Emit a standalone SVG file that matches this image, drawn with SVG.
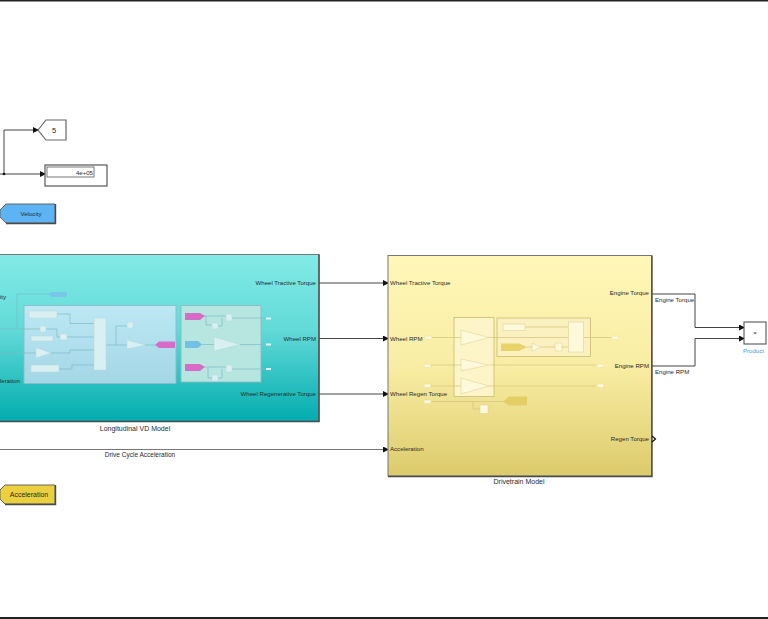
<svg xmlns="http://www.w3.org/2000/svg" width="768" height="619" viewBox="0 0 768 619">
<defs>
<linearGradient id="cy" x1="0" y1="0" x2="0" y2="1"><stop offset="0" stop-color="#82ebe6"/><stop offset="0.45" stop-color="#62dad8"/><stop offset="1" stop-color="#02acae"/></linearGradient>
<linearGradient id="ye" x1="0" y1="0" x2="0" y2="1"><stop offset="0" stop-color="#fff7b8"/><stop offset="0.5" stop-color="#f9eda4"/><stop offset="1" stop-color="#dccb6c"/></linearGradient>
<linearGradient id="bl" x1="0" y1="0" x2="0" y2="1"><stop offset="0" stop-color="#bde8f4"/><stop offset="1" stop-color="#a3d6e6"/></linearGradient>
<marker id="a" markerWidth="6" markerHeight="6" refX="5" refY="3" orient="auto" markerUnits="userSpaceOnUse"><path d="M0 0L6 3L0 6z" fill="#111"/></marker>
</defs>
<style>
text{font-family:"Liberation Sans",Arial,sans-serif;font-size:6.1px;fill:#2a2a2a}
.c{fill:none;stroke:#444;stroke-width:1}
.ca{fill:none;stroke:#444;stroke-width:1;marker-end:url(#a)}
.ic{fill:none;stroke:#7dbcc4;stroke-width:0.7}
.iy{fill:none;stroke:#d2c47c;stroke-width:0.7}
.lb{fill:#d9eff1;stroke:#b4d8dc;stroke-width:0.5}
.ly{fill:#fff9dc;stroke:#d9cc8a;stroke-width:0.5}
.m{text-anchor:middle}
.e{text-anchor:end}
.big{font-size:7px}
.sh{fill:none;stroke:#4a4a4a;stroke-width:1.4}
</style>
<rect width="768" height="619" fill="#fff"/>
<rect x="0" y="0" width="768" height="1.5" fill="#222"/>
<rect x="0" y="617" width="768" height="2" fill="#222"/>

<g id="connectors">
<path class="ca" d="M4 173V130H38"/>
<path class="ca" d="M0 174H45"/>
<circle cx="4" cy="174" r="1.3" fill="#111"/>
<path class="ca" d="M319 283H388"/>
<path class="ca" d="M319 338.500H388"/>
<path class="ca" d="M319 394H388"/>
<path d="M0 449.500H388" fill="none" stroke="#777" stroke-width="1" marker-end="url(#a)"/>
<path class="ca" d="M652 294H695V327.500H744"/>
<path class="ca" d="M652 366H695V338.500H744"/>
<text class="m big" x="140" y="457" style="font-size:6.500px">Drive Cycle Acceleration</text>
<text x="655" y="302">Engine Torque</text>
<text x="655" y="374">Engine RPM</text>
</g>

<g id="goto-5">
<path d="M38 130L46 120H66V140H46z" fill="#fff" stroke="#666" stroke-width="1.2"/>
<text class="m" x="54" y="133" style="font-size:7.500px">5</text>
</g>

<g id="display">
<rect x="45" y="165" width="62" height="21" fill="#fff" stroke="#555" stroke-width="1.2"/>
<rect x="47" y="167" width="47" height="10" fill="#fff" stroke="#555" stroke-width="0.8"/>
<text class="e" x="93" y="175">4e+05</text>
</g>

<g id="velocity">
<path d="M0 210L6 204H55V223H6L0 217z" fill="#5cb4f4" stroke="#666" stroke-width="1"/>
<path class="sh" d="M55.500 204V223.500H6"/>
<text class="m" x="31" y="216">Velocity</text>
</g>

<g id="acceleration">
<path d="M0 490L5 485H55V504H5L0 499z" fill="#eccf3f" stroke="#666" stroke-width="1"/>
<path class="sh" d="M55.500 485V504.500H5"/>
<text class="m big" x="29" y="497">Acceleration</text>
</g>

<g id="longitudinal-vd-model">
<rect x="-2" y="254.500" width="321" height="167" fill="url(#cy)" stroke="#777" stroke-width="1"/>
<path class="sh" d="M319 254.500V421.500H0"/>
<text x="0" y="299">ity</text>
<text x="0" y="383">leration</text>
<text class="e" x="316" y="285">Wheel Tractive Torque</text>
<text class="e" x="316" y="340.500">Wheel RPM</text>
<text class="e" x="316" y="396">Wheel Regenerative Torque</text>
<text class="m big" x="135" y="431">Longitudinal VD Model</text>
<path class="ic" d="M0 329H42M17 329V294H50"/>
<rect x="50" y="292" width="17" height="5" rx="2" fill="#79c6e8"/>
<rect x="24" y="305.500" width="152" height="78" fill="url(#bl)" stroke="#8abdc4" stroke-width="0.9"/>
<rect x="181" y="305.500" width="80" height="76.500" fill="#b6e6df" stroke="#8abdc4" stroke-width="0.9"/>
<path class="ic" d="M0 353H36M24 329H42M46 329H57V337H60M67 337H94M57 314H70V323.500H94M51 353H70V350H94M59 369H72V365H94M106 345H127M116 345V326H127M145 345H155"/>
<rect x="29" y="311" width="28" height="7" class="lb"/>
<rect x="31" y="336" width="22" height="5" class="lb"/>
<rect x="31" y="365" width="28" height="7" class="lb"/>
<rect x="94" y="318" width="12" height="52" rx="1" class="lb"/>
<rect x="40" y="326" width="6" height="6" rx="1.500" class="lb"/>
<rect x="60" y="334" width="7" height="6" rx="1.500" class="lb"/>
<rect x="127" y="322" width="6" height="6" rx="1.500" class="lb"/>
<path class="lb" d="M36 347.500L51 353L36 358z"/>
<path class="lb" d="M127 340L145 345L127 349z"/>
<path d="M155 345L159 341.500H175V348H159z" fill="#d66cc8"/>
<path class="ic" d="M204 316H226M206 316V325H212M218 326H222V318M202 344.500H214M240 344.500H266M205 367H226M208 367V378H212M218 378H222V369M232 318H266M232 369H266"/>
<path d="M185 313H200L205 316L200 320H185z" fill="#d66cc8"/>
<path d="M185 341H198L202 344.500L198 348H185z" fill="#72c0e4"/>
<path d="M185 364H200L205 367L200 371H185z" fill="#d66cc8"/>
<rect x="226" y="314" width="6" height="7" rx="1.500" class="lb"/>
<rect x="212" y="323" width="6" height="6" rx="1" class="lb"/>
<rect x="226" y="365" width="6" height="7" rx="1.500" class="lb"/>
<rect x="212" y="375" width="6" height="6" rx="1" class="lb"/>
<path class="lb" d="M214 337L240 344.500L214 351z"/>
<rect x="266" y="317.500" width="5" height="2" fill="#e8f6f4"/>
<rect x="266" y="343.500" width="5" height="2" fill="#e8f6f4"/>
<rect x="266" y="368" width="5" height="2" fill="#e8f6f4"/>
</g>

<g id="drivetrain-model">
<rect x="388" y="255.500" width="263.500" height="220.500" fill="url(#ye)" stroke="#777" stroke-width="1"/>
<path class="sh" d="M652 255.500V476.500H388"/>
<text x="390" y="285">Wheel Tractive Torque</text>
<text x="390" y="340.500">Wheel RPM</text>
<text x="390" y="396">Wheel Regen Torque</text>
<text x="390" y="451">Acceleration</text>
<text class="e" x="649" y="295">Engine Torque</text>
<text class="e" x="649" y="368">Engine RPM</text>
<text class="e" x="649" y="441">Regen Torque</text>
<text class="m big" x="519" y="484">Drivetrain Model</text>
<path d="M652 436L655.500 439L652 442" fill="none" stroke="#111" stroke-width="1.200"/>
<rect x="454" y="317.500" width="40" height="79" fill="#fdf5c8" stroke="#c9bb72" stroke-width="0.8"/>
<rect x="497" y="318" width="93.500" height="38.500" fill="#fbf0c0" stroke="#c9bb72" stroke-width="0.8"/>
<path class="iy" d="M430 337.500H461M489 337.500H611M430 365H461M490 365H596M430 386H461M489 386H596M430 401.500H503M473 401.500V409H480M525 327H568M527 347H532M541 347H555M562 347H568"/>
<rect x="503" y="324" width="22" height="6.500" class="ly"/>
<rect x="568.500" y="322" width="15" height="30" class="ly"/>
<path d="M501 343.500H519L527 347L519 351H501z" fill="#e8d26c"/>
<path class="ly" d="M532 343L541 347L532 351z"/>
<rect x="555" y="343" width="7" height="8" rx="1" class="ly"/>
<path class="ly" d="M461 330L489 337.500L461 345z"/>
<path class="ly" d="M461 359L489 365L461 371z"/>
<path class="ly" d="M461 378L489 386L461 394z"/>
<rect x="480" y="405" width="8" height="8.500" rx="1" class="ly"/>
<path d="M503 401.500L509 396.500H527V405.500H509z" fill="#e4cf66"/>
<rect x="425" y="336" width="7" height="3.500" rx="1.500" fill="#fff8dc" stroke="#e4d88f" stroke-width="0.4"/>
<rect x="612" y="336" width="7" height="3.500" rx="1.500" fill="#fff8dc" stroke="#e4d88f" stroke-width="0.4"/>
<rect x="424" y="364" width="7" height="3.500" rx="1.500" fill="#fff8dc" stroke="#e4d88f" stroke-width="0.4"/>
<rect x="597" y="364" width="7" height="3.500" rx="1.500" fill="#fff8dc" stroke="#e4d88f" stroke-width="0.4"/>
<rect x="424" y="384" width="7" height="3.500" rx="1.500" fill="#fff8dc" stroke="#e4d88f" stroke-width="0.4"/>
<rect x="597" y="384" width="7" height="3.500" rx="1.500" fill="#fff8dc" stroke="#e4d88f" stroke-width="0.4"/>
<rect x="424" y="400" width="7" height="3.500" rx="1.500" fill="#fff8dc" stroke="#e4d88f" stroke-width="0.4"/>
</g>

<g id="product">
<rect x="744" y="322" width="22" height="22" fill="#fff" stroke="#444" stroke-width="1"/>
<text class="m" x="755" y="335">×</text>
<text x="743" y="353" style="fill:#3aa0dc">Product</text>
</g>
</svg>
